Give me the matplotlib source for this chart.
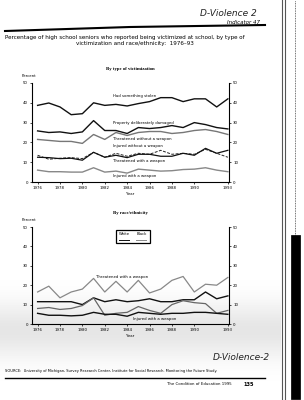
import numpy as np
import matplotlib.pyplot as plt
from matplotlib.lines import Line2D
from matplotlib.patches import Rectangle

years = list(range(1976, 1994))

# By type of victimization
stolen = [38.7, 39.9, 37.9, 34.0, 34.5, 40.0, 38.7, 39.2, 38.4, 39.6, 40.6, 42.6, 42.6, 40.6, 42.0, 42.0, 37.9, 42.0]
damaged = [25.8, 25.0, 25.3, 24.5, 25.3, 31.0, 26.0, 26.0, 24.5, 27.5, 27.0, 27.5, 28.5, 27.5, 30.0, 29.0, 27.5, 26.8]
threat_no_weapon = [21.5, 21.0, 20.5, 20.5, 19.5, 24.0, 21.5, 25.0, 23.5, 25.0, 25.5, 25.5, 24.5, 25.0, 26.0, 26.5, 25.5, 24.0]
injured_no_weapon = [13.5, 11.5, 12.0, 12.3, 11.8, 15.0, 12.5, 14.5, 13.0, 14.5, 14.0, 16.0, 14.0, 14.5, 14.0, 16.5, 14.5, 12.5]
threat_weapon = [12.5, 12.3, 11.8, 12.0, 11.0, 15.0, 12.5, 13.5, 12.3, 14.0, 14.0, 13.0, 13.0, 14.5, 13.5, 17.0, 14.5, 16.0]
injured_weapon = [6.0, 5.2, 5.2, 5.0, 5.0, 7.2, 5.0, 5.5, 4.5, 6.5, 6.0, 5.5, 5.7, 6.3, 6.5, 7.2, 6.0, 5.2]

# By race/ethnicity
black_threat = [16.5, 19.5, 13.5, 16.5, 18.0, 23.5, 16.5, 22.0, 16.5, 22.5, 16.0, 18.0, 22.5, 24.5, 16.5, 20.5, 20.0, 24.0]
white_threat = [11.5, 11.5, 11.5, 11.5, 10.0, 13.5, 11.5, 12.5, 11.5, 12.0, 13.0, 11.5, 11.5, 12.5, 12.5, 16.5, 13.0, 14.5]
black_injured = [8.0, 8.5, 7.5, 8.0, 9.5, 13.5, 4.5, 5.5, 6.0, 9.0, 7.0, 5.5, 10.0, 12.0, 11.0, 10.5, 5.5, 7.0]
white_injured = [5.5, 4.5, 4.5, 4.2, 4.5, 6.0, 5.0, 5.0, 4.0, 6.0, 5.5, 5.0, 5.5, 5.5, 6.0, 6.0, 5.5, 5.0]

year_ticks = [1976, 1978, 1980, 1982, 1984, 1986, 1988, 1990, 1993]
pct_ticks = [0, 10, 20, 30, 40, 50]

W, H = 304, 400
fig = plt.figure(figsize=(W / 100, H / 100), dpi=100)
fig.patch.set_facecolor('white')


def fx(x):
    return x / W


def fy(y):
    return 1 - y / H


# greyish scan tone across the lower part of the page
bg = fig.add_axes([0, 0, fx(281), 1], zorder=-5)
rows = np.arange(H)[:, None]
shade = 1 - 0.10 * np.exp(-((rows - 330) / 28.0) ** 2) * np.ones((1, 10))
bg.imshow(shade, cmap='gray', vmin=0, vmax=1, aspect='auto', extent=(0, 1, 0, 1), origin='upper')
bg.axis('off')


def style_axes(ax):
    ax.set_xlim(1975.5, 1993.1)
    ax.set_ylim(0, 50)
    ax.spines['top'].set_visible(False)
    for s in ['left', 'right', 'bottom']:
        ax.spines[s].set_linewidth(0.8)
    ax.set_yticks(pct_ticks)
    ax.set_xticks(year_ticks)
    ax.tick_params(axis='both', labelsize=2.8, length=1.5, width=0.5, pad=1.5)
    ax.tick_params(axis='y', right=True, labelright=True)
    ax.patch.set_alpha(0)


# page header
fig.text(fx(200), fy(13), 'D-Violence 2', fontsize=6.5, style='italic', family='DejaVu Sans',
         fontweight='light', va='center', color='#222222')
fig.text(fx(260), fy(22), 'Indicator 47', fontsize=4, style='italic', ha='right', va='center')
fig.add_artist(Line2D([fx(5), fx(130), fx(265)], [fy(31), fy(27), fy(25)], color='black', lw=1.5))
fig.text(fx(5), fy(37), 'Percentage of high school seniors who reported being victimized at school, by type of',
         fontsize=4.1, va='center')
fig.text(fx(135), fy(44), 'victimization and race/ethnicity:  1976\u201393',
         fontsize=4.1, va='center', ha='center')

# top chart
fig.text(fx(130), fy(69), 'By type of victimization', fontsize=3.4, family='Liberation Serif',
         fontweight='bold', ha='center', va='center')
fig.text(fx(22), fy(76), 'Percent', fontsize=2.8, va='center')
ax1 = fig.add_axes([fx(32), fy(182), fx(197), (182 - 83) / H])
style_axes(ax1)
ax1.plot(years, stolen, color='#111111', lw=1.0)
ax1.plot(years, damaged, color='#111111', lw=1.0)
ax1.plot(years, threat_no_weapon, color='#777777', lw=1.0)
ax1.plot(years, injured_no_weapon, color='#222222', lw=0.7, ls=(0, (3, 1.5)))
ax1.plot(years, threat_weapon, color='#111111', lw=0.9)
ax1.plot(years, injured_weapon, color='#888888', lw=1.0)
lab_kw = dict(fontsize=2.8, va='center', ha='left')
ax1.text(1982.7, 43.6, 'Had something stolen', **lab_kw)
ax1.text(1982.7, 30.0, 'Property deliberately damaged', **lab_kw)
ax1.text(1982.7, 21.5, 'Threatened without a weapon', **lab_kw)
ax1.text(1982.7, 18.2, 'Injured without a weapon', **lab_kw)
ax1.text(1982.7, 10.8, 'Threatened with a weapon', **lab_kw)
ax1.text(1982.7, 3.0, 'Injured with a weapon', **lab_kw)
ax1.set_xlabel('Year', fontsize=2.8, labelpad=1)

# bottom chart
fig.text(fx(130), fy(213), 'By race/ethnicity', fontsize=3.4, family='Liberation Serif',
         fontweight='bold', ha='center', va='center')
fig.text(fx(22), fy(220), 'Percent', fontsize=2.8, va='center')
ax2 = fig.add_axes([fx(32), fy(324), fx(197), (324 - 227) / H])
style_axes(ax2)
ax2.plot(years, black_threat, color='#888888', lw=0.9)
ax2.plot(years, white_threat, color='#111111', lw=1.0)
ax2.plot(years, black_injured, color='#666666', lw=0.9)
ax2.plot(years, white_injured, color='#111111', lw=1.0)
ax2.text(1981.2, 24.0, 'Threatened with a weapon', **lab_kw)
ax2.text(1984.5, 2.4, 'Injured with a weapon', **lab_kw)
ax2.set_xlabel('Year', fontsize=2.8, labelpad=1)

# legend box: names on top, line samples underneath
ax2.add_patch(Rectangle((0.425, 0.83), 0.175, 0.135, transform=ax2.transAxes, fill=False,
                        edgecolor='black', lw=0.9))
ax2.text(0.468, 0.925, 'White', transform=ax2.transAxes, fontsize=2.7, ha='center', va='center')
ax2.text(0.555, 0.925, 'Black', transform=ax2.transAxes, fontsize=2.7, ha='center', va='center')
ax2.add_line(Line2D([0.443, 0.493], [0.865, 0.865], transform=ax2.transAxes, color='#111111', lw=0.7))
ax2.add_line(Line2D([0.530, 0.580], [0.865, 0.865], transform=ax2.transAxes, color='#888888', lw=0.7))

# footer
fig.text(fx(213), fy(358), 'D-Violence-2', fontsize=6.5, style='italic', fontweight='light',
         va='center', color='#222222')
fig.text(fx(5), fy(371), 'SOURCE:  University of Michigan, Survey Research Center, Institute for Social Research, '
         'Monitoring the Future Study.', fontsize=2.6, va='center')
fig.add_artist(Line2D([fx(5), fx(265)], [fy(378), fy(378)], color='black', lw=1.0))
fig.text(fx(232), fy(384), 'The Condition of Education 1995', fontsize=2.8, ha='right', va='center')
fig.text(fx(243), fy(384), '135', fontsize=3.6, fontweight='bold', va='center')

# scanned page edge
fig.add_artist(Line2D([fx(282), fx(282)], [0, 1], color='#555555', lw=0.8))
fig.add_artist(Line2D([fx(285), fx(285)], [0, 1], color='#555555', lw=0.8))
fig.add_artist(Line2D([fx(295), fx(295)], [fy(240), 1], color='#444444', lw=0.6, ls=(0, (1, 1))))
fig.add_artist(Line2D([fx(296), fx(296)], [fy(395), fy(240)], color='black', lw=7))

fig.savefig('out.png', dpi=100, facecolor='white')
